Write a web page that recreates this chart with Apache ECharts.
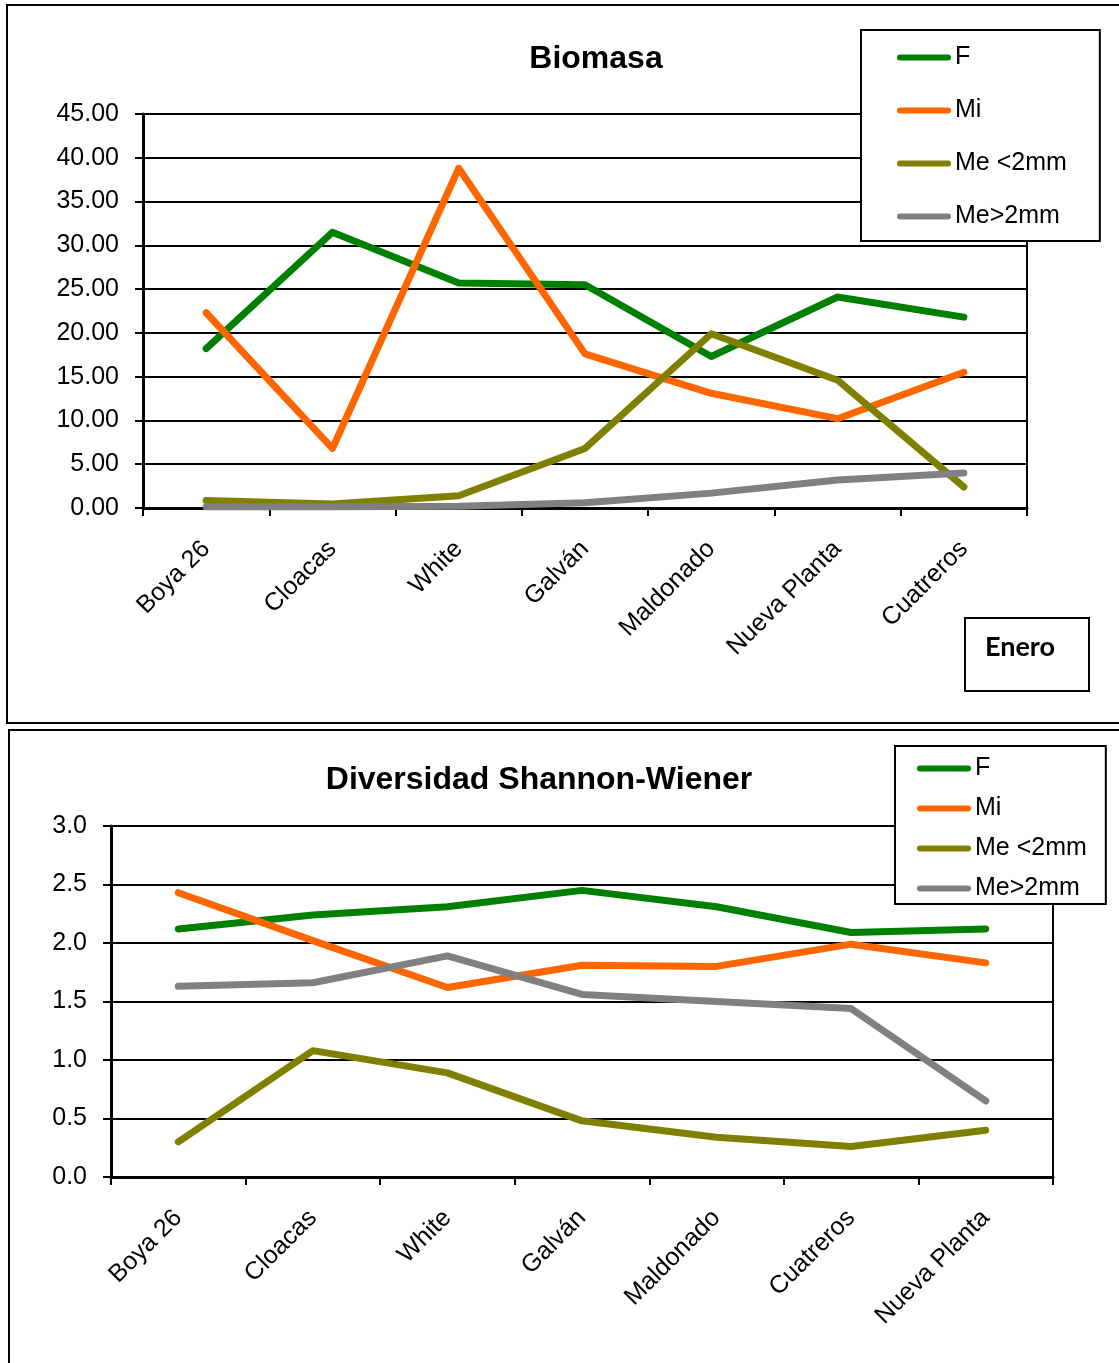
<!DOCTYPE html>
<html>
<head>
<meta charset="utf-8">
<title>Biomasa y Diversidad</title>
<script src="https://cdn.jsdelivr.net/npm/echarts@6/dist/echarts.min.js"></script>
<style>
  html, body { margin: 0; padding: 0; background: #fff; overflow: hidden; }
  #chart { width: 1119px; height: 1363px; }
</style>
</head>
<body>
<div id="chart"></div>
<script>
// Sampling stations for each panel
const stationsBiomasa = ['Boya 26', 'Cloacas', 'White', 'Galván', 'Maldonado', 'Nueva Planta', 'Cuatreros'];
const stationsDiversidad = ['Boya 26', 'Cloacas', 'White', 'Galván', 'Maldonado', 'Cuatreros', 'Nueva Planta'];

// Groups shown in both panels
const groupNames = ['F', 'Mi', 'Me <2mm', 'Me>2mm'];
const groupColors = ['#008000', '#FF6600', '#808000', '#808080'];

// Biomasa (Enero)
const biomasaF      = [18.2, 31.5, 25.7, 25.5, 17.3, 24.1, 21.8];
const biomasaMi     = [22.3, 6.8, 38.8, 17.6, 13.1, 10.2, 15.5];
const biomasaMeMen2 = [0.85, 0.45, 1.4, 6.8, 19.9, 14.6, 2.4];
const biomasaMeMay2 = [0.15, 0.15, 0.2, 0.6, 1.7, 3.2, 4.0];

// Diversidad Shannon-Wiener
const diversidadF      = [2.12, 2.24, 2.31, 2.45, 2.31, 2.09, 2.12];
const diversidadMi     = [2.43, 2.02, 1.62, 1.81, 1.80, 1.99, 1.83];
const diversidadMeMen2 = [0.30, 1.08, 0.89, 0.48, 0.34, 0.26, 0.40];
const diversidadMeMay2 = [1.63, 1.66, 1.89, 1.56, 1.50, 1.44, 0.65];

// Value axis ranges
const biomasaAxis = { min: 0, max: 45, interval: 5, decimals: 2 };
const diversidadAxis = { min: 0, max: 3, interval: 0.5, decimals: 1 };

const FONT = '"Liberation Sans", Arial, sans-serif';
const legendIcon = 'path://M3,0H51A3,3,0,0,1,51,6H3A3,3,0,0,1,3,0Z';

function xAxisFor(gridIndex, cats) {
  return {
    type: 'category', gridIndex: gridIndex, data: cats, boundaryGap: true,
    axisLine: { show: true, lineStyle: { color: '#000', width: 3 } },
    axisTick: { show: true, inside: false, length: 8, interval: 0, lineStyle: { color: '#000', width: 2 } },
    axisLabel: { interval: 0, rotate: 45, margin: 37, color: '#000', fontSize: 25, fontFamily: FONT },
    splitLine: { show: false }
  };
}

function yAxisFor(gridIndex, ax) {
  return {
    type: 'value', gridIndex: gridIndex, min: ax.min, max: ax.max, interval: ax.interval,
    axisLine: { show: true, lineStyle: { color: '#000', width: 3 } },
    axisTick: { show: true, inside: false, length: 8, lineStyle: { color: '#000', width: 2 } },
    axisLabel: { margin: 24, color: '#000', fontSize: 25, fontFamily: FONT,
                 formatter: v => v.toFixed(ax.decimals) },
    splitLine: { show: true, lineStyle: { color: '#000', width: 2 } }
  };
}

function lineSeries(name, data, color, gridIndex) {
  return {
    type: 'line', name: name, data: data,
    xAxisIndex: gridIndex, yAxisIndex: gridIndex,
    symbol: 'none', smooth: false, animation: false,
    color: color,
    lineStyle: { color: color, width: 7, cap: 'round', join: 'round' }
  };
}

function legendFor(left, top, gap, padding) {
  return {
    orient: 'vertical', left: left, top: top,
    data: groupNames.map((n, i) => ({ name: n, icon: legendIcon, itemStyle: { color: groupColors[i] } })),
    itemWidth: 54, itemHeight: 6, itemGap: gap,
    padding: padding,
    backgroundColor: '#fff', borderColor: '#000', borderWidth: 2, borderRadius: 0,
    selectedMode: false,
    textStyle: { color: '#000', fontSize: 25, fontFamily: FONT, lineHeight: 24, padding: [0, 0, 0, -1] }
  };
}

const chart = echarts.init(document.getElementById('chart'), null, { renderer: 'canvas' });

chart.setOption({
  backgroundColor: '#fff',
  animation: false,
  title: [
    { text: 'Biomasa', left: 591, top: 38, textAlign: 'center',
      textStyle: { fontSize: 32, fontWeight: 'bold', color: '#000', fontFamily: FONT } },
    { text: 'Diversidad Shannon-Wiener', left: 534, top: 759, textAlign: 'center',
      textStyle: { fontSize: 32, fontWeight: 'bold', color: '#000', fontFamily: FONT } }
  ],
  legend: [
    legendFor(861, 30, 28, [15, 33, 12, 36]),
    legendFor(895, 746, 15, [10, 19, 3, 22])
  ],
  grid: [
    { left: 143, top: 114, width: 884, height: 394, show: true, borderColor: '#000', borderWidth: 2, backgroundColor: 'transparent' },
    { left: 111, top: 826, width: 942, height: 351, show: true, borderColor: '#000', borderWidth: 2, backgroundColor: 'transparent' }
  ],
  xAxis: [xAxisFor(0, stationsBiomasa), xAxisFor(1, stationsDiversidad)],
  yAxis: [yAxisFor(0, biomasaAxis), yAxisFor(1, diversidadAxis)],
  series: [
    lineSeries(groupNames[0], biomasaF, groupColors[0], 0),
    lineSeries(groupNames[1], biomasaMi, groupColors[1], 0),
    lineSeries(groupNames[2], biomasaMeMen2, groupColors[2], 0),
    lineSeries(groupNames[3], biomasaMeMay2, groupColors[3], 0),
    lineSeries(groupNames[0], diversidadF, groupColors[0], 1),
    lineSeries(groupNames[1], diversidadMi, groupColors[1], 1),
    lineSeries(groupNames[2], diversidadMeMen2, groupColors[2], 1),
    lineSeries(groupNames[3], diversidadMeMay2, groupColors[3], 1)
  ],
  graphic: [
    // frames around the two panels
    { type: 'rect', z: 100, silent: true,
      shape: { x: 7, y: 5, width: 1130, height: 718 },
      style: { fill: 'none', stroke: '#000', lineWidth: 2 } },
    { type: 'rect', z: 100, silent: true,
      shape: { x: 9, y: 730, width: 1130, height: 660 },
      style: { fill: 'none', stroke: '#000', lineWidth: 2 } },
    // month label box
    { type: 'group', z: 100, children: [
      { type: 'rect', shape: { x: 965, y: 618, width: 124, height: 73 },
        style: { fill: '#fff', stroke: '#000', lineWidth: 2 } },
      { type: 'text', x: 985, y: 647,
        style: { text: 'Enero', fill: '#000', font: 'bold 27px Lato, "Open Sans", sans-serif',
                 align: 'left', verticalAlign: 'middle' } }
    ] }
  ]
});
</script>
</body>
</html>
